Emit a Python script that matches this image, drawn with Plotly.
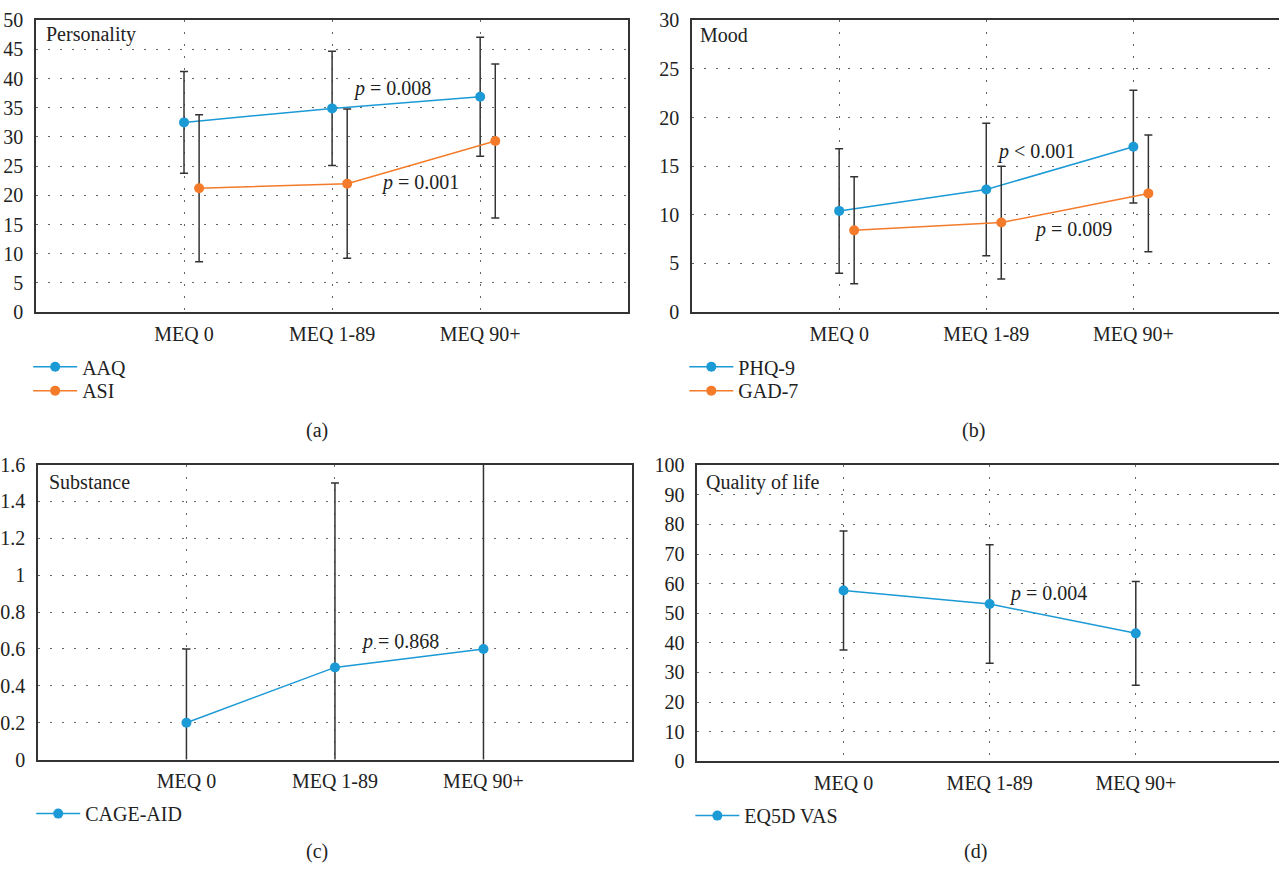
import plotly.graph_objects as go

# ---------------- data ----------------
categories = ["MEQ 0", "MEQ 1-89", "MEQ 90+"]

aaq_mean = [32.5, 34.9, 36.9]
aaq_sd = [8.7, 9.8, 10.2]
asi_mean = [21.2, 22.0, 29.3]
asi_sd = [12.6, 12.8, 13.2]

phq_mean = [10.4, 12.6, 17.0]
phq_sd = [6.4, 6.8, 5.8]
gad_mean = [8.4, 9.2, 12.2]
gad_sd = [5.5, 5.8, 6.0]

cage_mean = [0.2, 0.5, 0.6]
cage_sd = [0.4, 1.0, 1.2]

eq5d_mean = [57.7, 53.1, 43.2]
eq5d_sd = [20.1, 20.0, 17.5]

p_labels = {
    "a1": "<i>p</i> = 0.008", "a2": "<i>p</i> = 0.001",
    "b1": "<i>p</i> < 0.001", "b2": "<i>p</i> = 0.009",
    "c1": "<i>p</i> = 0.868", "d1": "<i>p</i> = 0.004",
}

# ---------------- style ----------------
BLUE = "#1b9ad6"
ORANGE = "#f47b2a"
ERR = "#333333"
FONT = "Liberation Serif"
FS = 20
W, H = 1279, 869

pos = [1, 2, 3]
OFF = 0.102


def px_x(v):
    page = (v - 3.0) / 0.9937
    return page / W


def px_y(v):
    page = (v - 9.0) / 0.980
    return 1 - page / H


fig = go.Figure()


def add_series(name, mean, sd, color, ax, legend, offset=0.0):
    fig.add_trace(go.Scatter(
        x=[p + offset for p in pos], y=mean, name=name,
        mode="lines+markers",
        line=dict(color=color, width=1.5),
        marker=dict(color=color, size=10),
        error_y=dict(type="data", array=sd, color=ERR, thickness=1.5, width=4),
        xaxis="x" + ax, yaxis="y" + ax, legend=legend, showlegend=True,
    ))


add_series("AAQ", aaq_mean, aaq_sd, BLUE, "", "legend")
add_series("ASI", asi_mean, asi_sd, ORANGE, "", "legend2", OFF)
add_series("PHQ-9", phq_mean, phq_sd, BLUE, "2", "legend3")
add_series("GAD-7", gad_mean, gad_sd, ORANGE, "2", "legend4", OFF)
add_series("CAGE-AID", cage_mean, cage_sd, BLUE, "3", "legend5")
add_series("EQ5D VAS", eq5d_mean, eq5d_sd, BLUE, "4", "legend6")

grid = dict(showgrid=True, gridcolor="#666666", gridwidth=1, griddash="2px,10px")


def xax(domain, anchor, rng):
    return dict(domain=domain, anchor=anchor, range=rng, tickvals=pos, ticktext=categories,
                showline=True, linecolor="#333333", linewidth=1.6, mirror=True,
                ticks="", ticklabelstandoff=3, zeroline=False,
                tickfont=dict(family=FONT, size=FS, color="#222"), **grid)


def yax(domain, anchor, rng, dtick, mirror=True):
    return dict(domain=domain, anchor=anchor, range=rng, dtick=dtick,
                showline=True, linecolor="#333333", linewidth=1.6, mirror=mirror,
                ticks="", ticklabelstandoff=7, zeroline=False, tickformat="~g",
                tickfont=dict(family=FONT, size=FS, color="#222"), **grid)


da = [px_x(38.7), px_x(627.3)]
db = [px_x(690.7), 1.0]
dc = [px_x(40.7), px_x(631.0)]
dd = [px_x(696.0), 1.0]
ya = [px_y(311.7), px_y(18.3)]
yc = [px_y(761.7), px_y(465.0)]
yd = [px_y(763.3), px_y(465.7)]

legend_common = dict(font=dict(family=FONT, size=FS, color="#222"), bgcolor="rgba(0,0,0,0)",
                     xanchor="left", yanchor="middle", itemwidth=44, tracegroupgap=0)

fig.update_layout(
    width=W, height=H, margin=dict(l=0, r=0, t=0, b=0),
    paper_bgcolor="white", plot_bgcolor="white",
    font=dict(family=FONT, size=FS, color="#222"),
    xaxis=xax(da, "y", [0, 4]),
    yaxis=yax(ya, "x", [0, 50], 5),
    xaxis2=xax(db, "y2", [0, 3.99]),
    yaxis2=yax(ya, "x2", [0, 30], 5, mirror=False),
    xaxis3=xax(dc, "y3", [0, 4]),
    yaxis3=yax(yc, "x3", [0, 1.6], 0.2),
    xaxis4=xax(dd, "y4", [0, 3.98]),
    yaxis4=yax(yd, "x4", [0, 100], 10, mirror=False),
    legend=dict(x=px_x(31), y=px_y(366.7), **legend_common),
    legend2=dict(x=px_x(31), y=px_y(390.7), **legend_common),
    legend3=dict(x=px_x(683), y=px_y(366.7), **legend_common),
    legend4=dict(x=px_x(683), y=px_y(390.7), **legend_common),
    legend5=dict(x=px_x(34), y=px_y(816), **legend_common),
    legend6=dict(x=px_x(689), y=px_y(818), **legend_common),
)

ann = []


def note(text, x, y, xref, yref, xanchor="left"):
    ann.append(dict(text=text, x=x, y=y, xref=xref, yref=yref, showarrow=False,
                    xanchor=xanchor, yanchor="middle",
                    font=dict(family=FONT, size=FS, color="#222")))


note(p_labels["a1"], 2.13, 38.3, "x", "y")
note(p_labels["a2"], 2.32, 22.15, "x", "y")
note(p_labels["b1"], 2.06, 16.46, "x2", "y2")
note(p_labels["b2"], 2.31, 8.53, "x2", "y2")
note(p_labels["c1"], 2.16, 0.642, "x3", "y3")
note(p_labels["d1"], 2.12, 56.6, "x4", "y4")

note("Personality", 0.014, 0.95, "x domain", "y domain")
note("Mood", 0.010, 0.95, "x2 domain", "y2 domain")
note("Substance", 0.016, 0.94, "x3 domain", "y3 domain")
note("Quality of life", 0.011, 0.942, "x4 domain", "y4 domain")

note("(a)", px_x(318), px_y(431), "paper", "paper", "center")
note("(b)", px_x(970), px_y(431), "paper", "paper", "center")
note("(c)", px_x(318), px_y(854), "paper", "paper", "center")
note("(d)", px_x(972), px_y(854), "paper", "paper", "center")

fig.update_layout(annotations=ann)

post = (
    "document.documentElement.style.margin='0';"
    "document.documentElement.style.overflow='hidden';"
    "document.body.style.margin='0';"
    "document.body.style.overflow='hidden';"
    "var g=document.getElementById('{plot_id}');"
    "g.style.position='fixed';g.style.top='0px';g.style.left='0px';"
)

fig.write_html("out.html", config={"displayModeBar": False}, post_script=post)
